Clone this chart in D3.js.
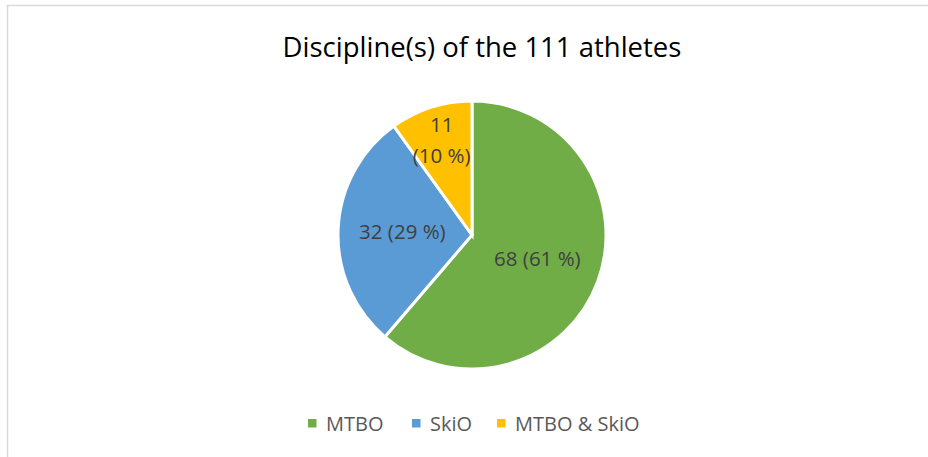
<!DOCTYPE html>
<html>
<head>
<meta charset="utf-8">
<script src="https://cdn.jsdelivr.net/npm/d3@7"></script>
<style>
  body { margin: 0; background: #fff; }
  svg { display: block; }
</style>
</head>
<body>
<div id="chart"></div>
<script>
// chart data
var categories = ["MTBO", "SkiO", "MTBO & SkiO"];
var counts = [68, 32, 11];
var colors = ["#70AD47", "#5B9BD5", "#FFC000"];
var title = "Discipline(s) of the 111 athletes";

var width = 928, height = 457;
var cx = 472, cy = 235, radius = 134;
var font = "'Open Sans', 'Noto Sans', sans-serif";

var total = d3.sum(counts);
var data = categories.map(function(c, i) { return {name: c, value: counts[i], color: colors[i]}; });

var svg = d3.select("#chart").append("svg")
    .attr("width", width)
    .attr("height", height);

// chart area border (runs off the right/bottom edge like the original)
svg.append("rect")
    .attr("x", 7.5).attr("y", 5.5)
    .attr("width", 940).attr("height", 470)
    .style("fill", "white")
    .style("stroke", "#d9d9d9")
    .style("stroke-width", 1.5);

svg.append("text")
    .attr("x", 482).attr("y", 57)
    .attr("text-anchor", "middle")
    .style("font-family", font)
    .style("font-size", "27.5px")
    .style("fill", "#000")
    .text(title);

var pie = d3.pie().sort(null).value(function(d) { return d.value; });
var arcs = pie(data);

var arc = d3.arc().innerRadius(0).outerRadius(radius);

var g = svg.append("g").attr("transform", "translate(" + cx + "," + cy + ")");

g.selectAll("path")
    .data(arcs)
  .enter().append("path")
    .attr("d", arc)
    .style("fill", function(d) { return d.data.color; })
    .style("stroke", "white")
    .style("stroke-width", 3)
    .style("stroke-linejoin", "miter");

/* labels: big slices in the middle, small ones pushed out and wrapped */
var labelArc = d3.arc().innerRadius(radius * 0.52).outerRadius(radius * 0.52);
var outerLabelArc = d3.arc().innerRadius(radius * 0.74).outerRadius(radius * 0.74);

arcs.forEach(function(d) {
  var share = d.data.value / total;
  var small = share < 0.15;
  var pos = small ? outerLabelArc.centroid(d) : labelArc.centroid(d);
  var pctText = "(" + Math.round(share * 100) + " %)";
  var t = g.append("text")
      .attr("x", pos[0]).attr("y", pos[1])
      .attr("text-anchor", "middle")
      .style("font-family", font)
      .style("font-size", "20.5px")
      .style("fill", "#404040");
  if (small) {
    t.append("tspan").attr("x", pos[0]).attr("dy", "-0.42em").text(d.data.value);
    t.append("tspan").attr("x", pos[0]).attr("dy", "1.51em").text(pctText);
  } else {
    t.attr("dy", "0.35em").text(d.data.value + " " + pctText);
  }
});

// legend
var legendX = [308, 412, 497];
var legend = svg.append("g").attr("class", "legend");
data.forEach(function(d, i) {
  legend.append("rect")
      .attr("x", legendX[i]).attr("y", 419)
      .attr("width", 8.5).attr("height", 8.5)
      .style("fill", d.color);
  legend.append("text")
      .attr("x", legendX[i] + 18).attr("y", 431)
      .style("font-family", font)
      .style("font-size", "20px")
      .style("fill", "#595959")
      .text(d.name);
});
</script>
</body>
</html>
